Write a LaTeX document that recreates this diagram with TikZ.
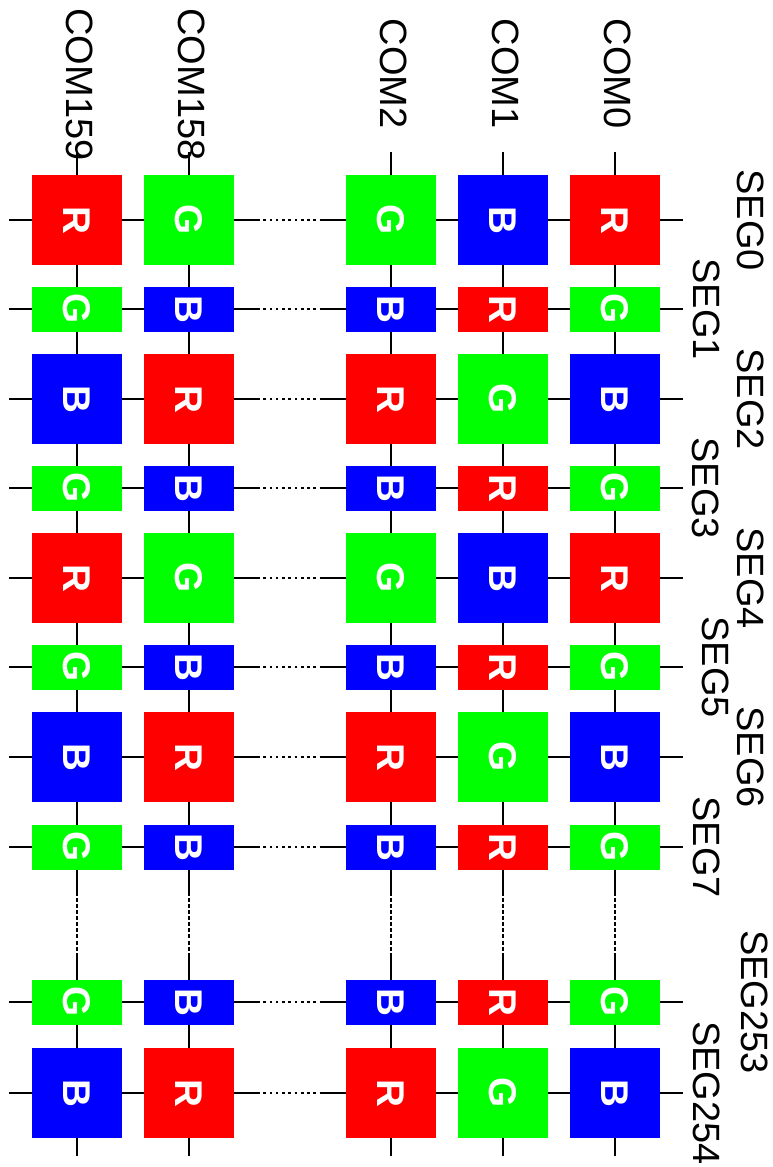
\documentclass[tikz,border=0pt]{standalone}
\usepackage{fontspec}
\setmainfont{Liberation Sans}
\usetikzlibrary{calc}
\definecolor{cR}{RGB}{255,0,0}
\definecolor{cG}{RGB}{0,255,0}
\definecolor{cB}{RGB}{0,0,255}
\tikzset{
  cell/.style={draw=none,inner sep=0pt,outer sep=0pt,minimum width=67.5pt,text=white,
    font=\fontsize{29pt}{30pt}\selectfont\bfseries},
  bigbox/.style={cell,minimum height=67.5pt},
  smallbox/.style={cell,minimum height=33.75pt},
  wire/.style={draw=black,line width=1.5pt},
  hdots/.style={wire,dash pattern=on 2pt off 2.7pt},
  vdots/.style={wire,dash pattern=on 3pt off 1.6pt},
  lab/.style={rotate=-90,inner sep=0pt,font=\fontsize{28.5pt}{30pt}\selectfont}
}
\begin{document}
\begin{tikzpicture}[x=0.75pt,y=-0.75pt]
\useasboundingbox (0,0) rectangle (772,1167);
% boxes
\foreach \r/\y/\s/\p/\q/\w in {0/220/bigbox/R/B/G,1/309/smallbox/G/R/B,2/399/bigbox/B/G/R,3/488/smallbox/G/R/B,4/578/bigbox/R/B/G,5/667/smallbox/G/R/B,6/757/bigbox/B/G/R,7/847/smallbox/G/R/B,8/1002/smallbox/G/R/B,9/1093/bigbox/B/G/R}{
  \node[\s,fill=c\p] (b0-\r) at (615,\y) {\rotatebox{-90}{\p}};
  \node[\s,fill=c\q] (b1-\r) at (503,\y) {\rotatebox{-90}{\q}};
  \node[\s,fill=c\w] (b2-\r) at (391,\y) {\rotatebox{-90}{\w}};
  \node[\s,fill=c\w] (b3-\r) at (189,\y) {\rotatebox{-90}{\w}};
  \node[\s,fill=c\p] (b4-\r) at (77,\y) {\rotatebox{-90}{\p}};
  \coordinate (hl\r) at (9,\y);
  \coordinate (hr\r) at (683,\y);
  \draw[wire] (hl\r) -- (b4-\r.west);
  \draw[wire] (b4-\r.east) -- (b3-\r.west);
  \draw[wire] (b3-\r.east) -- ++(23,0);
  \draw[hdots] ($(b3-\r.east)+(23,0)$) -- ($(b2-\r.west)+(-26,0)$);
  \draw[wire] (b2-\r.west) -- ++(-26,0);
  \draw[wire] (b2-\r.east) -- (b1-\r.west);
  \draw[wire] (b1-\r.east) -- (b0-\r.west);
  \draw[wire] (b0-\r.east) -- (hr\r);
}
% vertical lines
\foreach \c/\x in {0/615,1/503,2/391,3/189,4/77}{
  \coordinate (vt\c) at (\x,152);
  \coordinate (vb\c) at (\x,1156);
  \draw[wire] (vt\c) -- (b\c-0.north);
  \foreach \r [evaluate=\r as \n using int(\r+1)] in {0,...,6}{
    \draw[wire] (b\c-\r.south) -- (b\c-\n.north);
  }
  \draw[wire] (b\c-7.south) -- ++(0,22);
  \draw[vdots] ($(b\c-7.south)+(0,22)$) -- ($(b\c-8.north)+(0,-23)$);
  \draw[wire] (b\c-8.north) -- ++(0,-23);
  \draw[wire] (b\c-8.south) -- (b\c-9.north);
  \draw[wire] (b\c-9.south) -- (vb\c);
}
% COM labels
\node[lab] (com0) at (618,73.5) {COM0};
\node[lab] (com1) at (506,73.5) {COM1};
\node[lab] (com2) at (394,73.5) {COM2};
\node[lab] (com158) at (192,84.5) {COM158};
\node[lab] (com159) at (80,84.5) {COM159};
% SEG labels
\node[lab] (seg0) at (751,220) {SEG0};
\node[lab] (seg1) at (707,309) {SEG1};
\node[lab] (seg2) at (751,399) {SEG2};
\node[lab] (seg3) at (706,488) {SEG3};
\node[lab] (seg4) at (751,578) {SEG4};
\node[lab] (seg5) at (716,667) {SEG5};
\node[lab] (seg6) at (751,757) {SEG6};
\node[lab] (seg7) at (707,847) {SEG7};
\node[lab] (seg253) at (755,1002) {SEG253};
\node[lab] (seg254) at (707,1093) {SEG254};
\end{tikzpicture}
\end{document}
